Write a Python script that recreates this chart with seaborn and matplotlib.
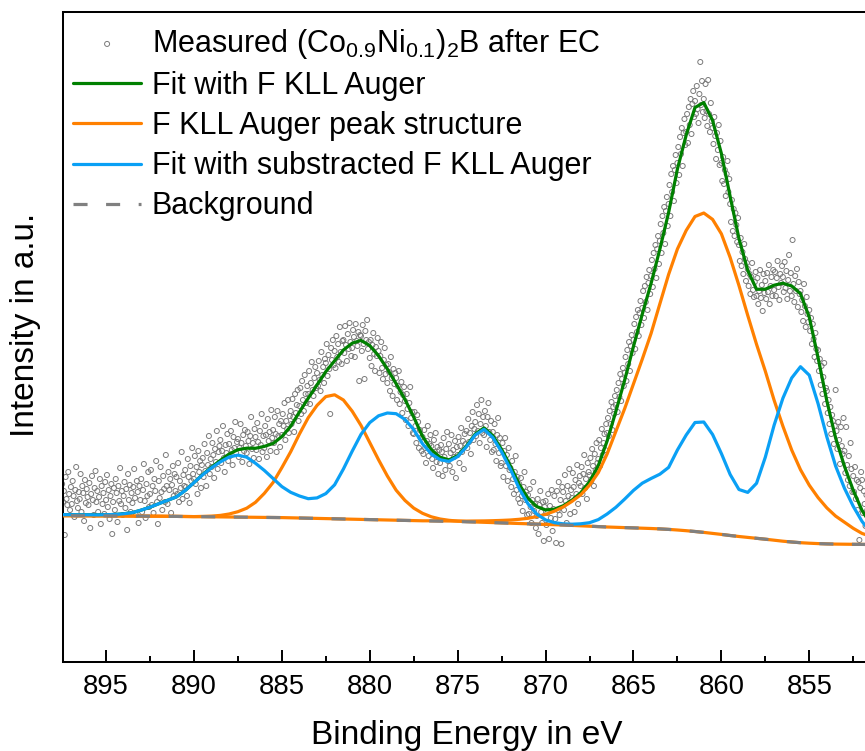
import numpy as np
import pandas as pd
import matplotlib
matplotlib.use("Agg")
import matplotlib.pyplot as plt
from matplotlib.ticker import MultipleLocator, NullLocator
import seaborn as sns

# Measured spectrum, 0.05 eV steps from 897.5 eV towards lower binding energy (a.u.)
MEAS_START = 897.5
MEAS_STEP = 0.05
measured = [
    178, 160, 171, 127, 185, 163, 157, 190, 168, 152, 175, 158, 181, 166, 145, 172, 195, 161, 154, 170,
    163, 188, 150, 176, 169, 141, 182, 159, 173, 165, 157, 179, 134, 168, 186, 162, 147, 174, 191, 160,
    171, 150, 165, 183, 138, 176, 158, 169, 148, 180, 162, 187, 155, 172, 143, 166, 178, 128, 160, 174,
    152, 183, 169, 140, 176, 161, 194, 158, 171, 147, 166, 180, 154, 173, 132, 188, 162, 177, 150, 169,
    159, 175, 193, 164, 147, 181, 170, 139, 176, 162, 183, 150, 172, 198, 161, 144, 178, 166, 190, 155,
    168, 192, 157, 176, 149, 183, 171, 201, 160, 138, 181, 164, 195, 170, 152, 186, 173, 160, 207, 176,
    158, 190, 172, 183, 149, 177, 196, 166, 188, 171, 185, 168, 199, 160, 181, 174, 210, 163, 187, 176,
    192, 175, 166, 203, 185, 159, 196, 181, 214, 188, 183, 206, 178, 195, 168, 211, 190, 201, 174, 197,
    204, 185, 218, 191, 176, 209, 197, 226, 188, 203, 195, 219, 207, 184, 213, 200, 231, 193, 210, 216,
    222, 199, 211, 236, 204, 190, 217, 209, 228, 201, 218, 206, 231, 212, 197, 225, 214, 240, 209, 220,
    223, 205, 214, 238, 219, 200, 227, 211, 232, 216, 209, 230, 221, 198, 226, 245, 213, 219, 204, 233,
    225, 212, 239, 220, 203, 231, 217, 248, 210, 226, 214, 236, 227, 205, 243, 221, 230, 211, 252, 224,
    232, 219, 245, 228, 210, 251, 226, 238, 215, 241, 227, 248, 236, 259, 222, 241, 233, 262, 229, 246,
    251, 238, 263, 245, 230, 268, 249, 257, 272, 241, 256, 274, 248, 281, 262, 251, 287, 268, 259, 276,
    268, 291, 258, 279, 300, 272, 266, 284, 295, 274, 289, 276, 301, 282, 271, 310, 287, 295, 279, 303,
    299, 318, 286, 307, 293, 248, 314, 302, 322, 297, 311, 294, 326, 305, 318, 300, 335, 310, 298, 321,
    322, 309, 336, 317, 301, 328, 313, 339, 320, 306, 314, 332, 325, 305, 338, 321, 316, 330, 281, 327,
    326, 311, 337, 318, 283, 331, 322, 342, 313, 320, 304, 322, 296, 317, 329, 308, 291, 315, 306, 324,
    311, 289, 306, 320, 294, 283, 302, 314, 288, 297, 279, 298, 290, 271, 305, 284, 266, 293, 278, 289,
    284, 262, 276, 291, 258, 270, 280, 249, 267, 275, 261, 242, 268, 253, 236, 259, 275, 244, 250, 229,
    228, 250, 236, 219, 247, 240, 214, 232, 224, 211, 225, 208, 232, 214, 199, 221, 236, 206, 218, 227,
    216, 203, 194, 222, 210, 229, 200, 215, 188, 212, 199, 217, 210, 186, 224, 205, 192, 213, 230, 201,
    218, 196, 209, 227, 190, 212, 205, 221, 184, 215, 207, 225, 199, 216, 234, 210, 221, 193, 228, 218,
    231, 214, 243, 220, 229, 208, 236, 250, 222, 233, 240, 226, 257, 231, 248, 219, 238, 262, 229, 245,
    227, 251, 236, 215, 245, 259, 230, 222, 241, 210, 230, 212, 238, 218, 201, 227, 244, 209, 224, 196,
    199, 219, 185, 211, 224, 196, 207, 181, 214, 192, 194, 175, 201, 183, 168, 190, 206, 172, 185, 163,
    178, 159, 184, 166, 151, 175, 190, 162, 170, 147, 167, 148, 173, 155, 139, 162, 180, 151, 158, 134,
    146, 163, 128, 157, 171, 150, 139, 160, 121, 155, 161, 137, 149, 168, 123, 156, 144, 172, 131, 153,
    166, 143, 119, 171, 152, 180, 147, 162, 118, 175, 170, 152, 187, 161, 139, 176, 166, 193, 148, 172,
    164, 189, 175, 150, 182, 168, 197, 158, 179, 186, 176, 195, 168, 188, 207, 174, 183, 163, 199, 190,
    187, 204, 181, 213, 196, 176, 208, 192, 219, 199, 203, 222, 196, 214, 233, 207, 219, 228, 212, 238,
    229, 244, 226, 251, 238, 260, 232, 255, 248, 266, 257, 272, 250, 279, 265, 288, 261, 283, 294, 276,
    289, 305, 281, 312, 298, 320, 291, 316, 327, 309, 322, 338, 313, 345, 330, 352, 326, 349, 361, 337,
    354, 371, 344, 376, 360, 385, 352, 379, 392, 368, 386, 402, 375, 409, 393, 417, 384, 413, 426, 398,
    421, 438, 409, 446, 429, 455, 418, 451, 465, 436, 458, 477, 446, 488, 470, 496, 461, 492, 507, 479,
    499, 515, 487, 525, 508, 534, 496, 529, 543, 517, 530, 548, 519, 555, 537, 563, 528, 558, 571, 545,
    561, 548, 576, 553, 539, 568, 600, 557, 581, 550, 563, 544, 578, 551, 536, 582, 548, 530, 559, 541,
    534, 518, 545, 526, 503, 529, 512, 537, 497, 521, 499, 481, 505, 478, 492, 466, 488, 501, 470, 483,
    458, 440, 462, 431, 453, 426, 449, 437, 420, 444, 417, 401, 424, 396, 410, 388, 418, 403, 381, 399,
    393, 376, 388, 368, 385, 399, 372, 365, 380, 390, 366, 384, 358, 371, 392, 364, 377, 351, 388, 369,
    381, 363, 389, 370, 397, 358, 376, 385, 366, 392, 372, 390, 366, 384, 401, 375, 362, 388, 379, 396,
    385, 370, 400, 374, 391, 363, 382, 407, 371, 389, 366, 422, 378, 360, 386, 371, 393, 355, 380, 368,
    371, 350, 362, 341, 378, 356, 335, 365, 348, 340, 352, 331, 344, 318, 338, 323, 305, 329, 313, 301,
    312, 291, 303, 277, 296, 268, 285, 299, 258, 274, 271, 249, 262, 238, 255, 228, 247, 241, 218, 236,
    272, 231, 213, 240, 222, 198, 235, 216, 208, 244, 211, 189, 235, 197, 182, 206, 176, 219, 193, 170,
    186, 170, 195, 163, 182, 152, 180, 122, 174, 190, 182, 149, 171, 158, 136, 167, 152, 176, 144, 161,
    157,
]

# Fit curves on a 0.5 eV grid from 897.5 eV down to 851.5 eV (a.u.)
FIT_START = 897.5
FIT_STEP = 0.5
fit_with_auger = [
    147.3, 147.3, 147.2, 147.2, 147.1, 147.3, 147.5, 148.2, 149.4, 151.9,
    154.8, 158.3, 161.7, 165.1, 171.5, 179.4, 187.6, 194.9, 201.6, 208.0,
    212.3, 213.8, 213.7, 215.6, 218.5, 225.4, 235.7, 250.0, 263.8, 277.1,
    290.4, 301.2, 312.0, 318.8, 321.6, 316.4, 306.2, 293.0, 278.3, 262.6,
    244.9, 225.7, 212.4, 204.8, 202.1, 206.4, 216.1, 228.0, 234.1, 226.3,
    212.6, 196.0, 177.7, 163.7, 155.4, 152.1, 152.8, 156.2, 161.8, 169.2,
    180.3, 196.4, 221.0, 250.7, 281.9, 315.6, 347.8, 378.5, 412.8, 449.6,
    493.0, 527.0, 554.5, 559.4, 541.5, 508.5, 465.5, 423.5, 391.6, 372.7,
    372.8, 376.8, 378.8, 376.0, 368.3, 344.8, 304.4, 261.1, 223.9, 195.8,
    171.7, 151.6, 137.5,
]
# F KLL Auger structure: two components, each drawn on top of the background
auger_high_be = [
    146.3, 146.3, 146.2, 146.2, 146.1, 146.1, 146.0, 146.0, 145.9, 145.9,
    145.8, 145.8, 145.7, 145.6, 145.5, 145.4, 145.6, 145.9, 146.6, 148.0,
    150.3, 153.8, 159.7, 168.6, 179.5, 194.4, 210.2, 228.0, 244.3, 256.6,
    265.4, 267.2, 262.0, 250.8, 236.6, 219.4, 202.2, 186.0, 171.8, 161.6,
    153.9, 148.7, 145.2, 143.0, 141.7, 140.9, 140.4, 140.0, 139.7, 139.4,
    139.1, 138.8, 138.5, 138.2, 137.9, 137.6, 137.3, 137.0, 136.6, 136.2,
    135.8, 135.4, 135.0, 134.7, 134.4, 134.1, 133.8, 133.5, 133.1, 132.6,
    132.0, 131.3, 130.5, 129.6, 128.6, 127.6, 126.5, 125.5, 124.6, 123.7,
    122.8, 121.8, 120.8, 120.0, 119.3, 118.8, 118.4, 118.1, 117.9, 117.8,
    117.7, 117.6, 117.5,
]
auger_low_be = [
    146.3, 146.3, 146.2, 146.2, 146.1, 146.1, 146.0, 146.0, 145.9, 145.9,
    145.8, 145.8, 145.7, 145.6, 145.5, 145.4, 145.3, 145.2, 145.1, 145.0,
    144.9, 144.8, 144.7, 144.6, 144.5, 144.4, 144.2, 144.0, 143.8, 143.6,
    143.4, 143.2, 143.0, 142.8, 142.6, 142.4, 142.2, 142.0, 141.8, 141.6,
    141.4, 141.2, 141.2, 141.1, 141.0, 140.9, 140.9, 141.0, 141.1, 141.3,
    141.6, 142.0, 142.7, 143.7, 145.4, 147.6, 150.8, 155.0, 160.6, 167.2,
    176.8, 189.4, 208.0, 230.7, 253.4, 278.1, 302.8, 328.5, 358.1, 387.6,
    413.0, 431.6, 445.5, 449.0, 442.6, 428.2, 404.5, 376.5, 346.6, 317.7,
    290.8, 261.8, 235.8, 212.0, 192.3, 176.8, 164.4, 154.1, 145.9, 139.8,
    133.7, 128.6, 125.5,
]
fit_subtracted = [
    147.3, 147.3, 147.2, 147.2, 147.1, 147.3, 147.5, 148.2, 149.4, 151.9,
    154.8, 158.3, 161.7, 165.1, 171.5, 179.4, 187.3, 194.2, 200.1, 205.0,
    206.9, 204.8, 198.7, 191.6, 183.5, 175.4, 169.7, 166.0, 163.3, 164.1,
    168.4, 177.2, 193.0, 210.8, 227.6, 239.4, 246.2, 249.0, 248.3, 242.6,
    232.4, 218.2, 208.0, 202.3, 200.6, 205.4, 215.2, 227.0, 232.7, 224.4,
    210.1, 192.8, 173.5, 158.2, 147.9, 142.1, 139.3, 138.2, 137.8, 138.2,
    139.3, 142.4, 148.0, 154.7, 162.9, 171.6, 178.8, 183.5, 187.8, 194.6,
    212.0, 227.0, 239.5, 240.0, 227.5, 208.5, 187.5, 172.5, 169.6, 178.7,
    204.8, 236.8, 263.8, 284.0, 295.3, 286.8, 258.4, 225.1, 195.9, 173.8,
    155.7, 140.6, 129.5,
]
background = [
    146.3, 146.3, 146.2, 146.2, 146.1, 146.1, 146.0, 146.0, 145.9, 145.9,
    145.8, 145.8, 145.7, 145.6, 145.5, 145.4, 145.3, 145.2, 145.1, 145.0,
    144.9, 144.8, 144.7, 144.6, 144.5, 144.4, 144.2, 144.0, 143.8, 143.6,
    143.4, 143.2, 143.0, 142.8, 142.6, 142.4, 142.2, 142.0, 141.8, 141.6,
    141.4, 141.2, 141.0, 140.8, 140.6, 140.4, 140.2, 140.0, 139.7, 139.4,
    139.1, 138.8, 138.5, 138.2, 137.9, 137.6, 137.3, 137.0, 136.6, 136.2,
    135.8, 135.4, 135.0, 134.7, 134.4, 134.1, 133.8, 133.5, 133.1, 132.6,
    132.0, 131.3, 130.5, 129.6, 128.6, 127.6, 126.5, 125.5, 124.6, 123.7,
    122.8, 121.8, 120.8, 120.0, 119.3, 118.8, 118.4, 118.1, 117.9, 117.8,
    117.7, 117.6, 117.5,
]

x_ticks = [895, 890, 885, 880, 875, 870, 865, 860, 855]

meas = pd.DataFrame({
    "energy": MEAS_START - MEAS_STEP * np.arange(len(measured)),
    "intensity": measured,
})
fit = pd.DataFrame({
    "energy": FIT_START - FIT_STEP * np.arange(len(background)),
    "total": fit_with_auger,
    "auger_a": auger_high_be,
    "auger_b": auger_low_be,
    "sub": fit_subtracted,
    "bg": background,
})

sns.set_theme(style="white")
plt.rcParams["font.family"] = ["Liberation Sans", "DejaVu Sans"]
plt.rcParams["mathtext.fontset"] = "custom"
plt.rcParams["mathtext.rm"] = "Liberation Sans"
plt.rcParams["mathtext.it"] = "Liberation Sans:italic"
plt.rcParams["mathtext.bf"] = "Liberation Sans:bold"

fig = plt.figure(figsize=(8.65, 7.51), dpi=100)
ax = fig.add_axes([63 / 865, 89 / 751, 802 / 865, 650 / 751])

LW = 2.3
GREEN, ORANGE, BLUE, GREY = "#008000", "#FF8000", "#0AA0F5", "#808080"
sns.scatterplot(data=meas, x="energy", y="intensity", ax=ax, marker="o",
                s=13, facecolor="none", edgecolor="#7a7a7a", linewidth=0.7,
                label=r"Measured (Co$_{0.9}$Ni$_{0.1}$)$_{2}$B after EC", zorder=2)
sns.lineplot(data=fit, x="energy", y="total", ax=ax, color=GREEN, lw=LW,
             label="Fit with F KLL Auger", zorder=3)
sns.lineplot(data=fit, x="energy", y="auger_a", ax=ax, color=ORANGE, lw=LW,
             label="F KLL Auger peak structure", zorder=4)
sns.lineplot(data=fit, x="energy", y="auger_b", ax=ax, color=ORANGE, lw=LW,
             label="_auger_b", zorder=4)
sns.lineplot(data=fit, x="energy", y="sub", ax=ax, color=BLUE, lw=LW,
             label="Fit with substracted F KLL Auger", zorder=5)
sns.lineplot(data=fit, x="energy", y="bg", ax=ax, color=GREY, lw=LW,
             label="Background", zorder=6)
ax.lines[-1].set_dashes((4.4, 5.8))

ax.set_xlim(897.45, 851.83)
ax.set_ylim(0, 650)

ax.set_xticks(x_ticks)
ax.set_xticklabels([str(t) for t in x_ticks])
ax.xaxis.set_minor_locator(MultipleLocator(2.5))
ax.yaxis.set_major_locator(NullLocator())
ax.yaxis.set_minor_locator(NullLocator())
ax.tick_params(axis="x", which="major", direction="in", length=8.6, width=1.4,
               bottom=True, top=False, labelsize=19.7, pad=9, color="black",
               labelcolor="black")
ax.tick_params(axis="x", which="minor", direction="in", length=4.3, width=1.4,
               bottom=True, top=False, color="black")

for side in ["top", "left", "bottom"]:
    ax.spines[side].set_visible(True)
    ax.spines[side].set_linewidth(1.45)
    ax.spines[side].set_color("black")
ax.spines["right"].set_visible(False)

ax.set_xlabel("Binding Energy in eV", fontsize=24, color="black")
ax.xaxis.set_label_coords(0.504, -0.089)
ax.set_ylabel("Intensity in a.u.", fontsize=24, color="black")
ax.yaxis.set_label_coords(-0.027, 0.518)

handles, labels = ax.get_legend_handles_labels()
keep = [i for i, lab in enumerate(labels) if not lab.startswith("_")]
leg = ax.legend([handles[i] for i in keep], [labels[i] for i in keep],
                loc="upper left", bbox_to_anchor=(0.0121, 0.977), frameon=False,
                fontsize=22, handlelength=2.25, handletextpad=0.33,
                labelspacing=0.33, borderaxespad=0, borderpad=0,
                scatterpoints=1)
for t in leg.get_texts():
    t.set_color("black")

fig.savefig("out.png", dpi=100)
